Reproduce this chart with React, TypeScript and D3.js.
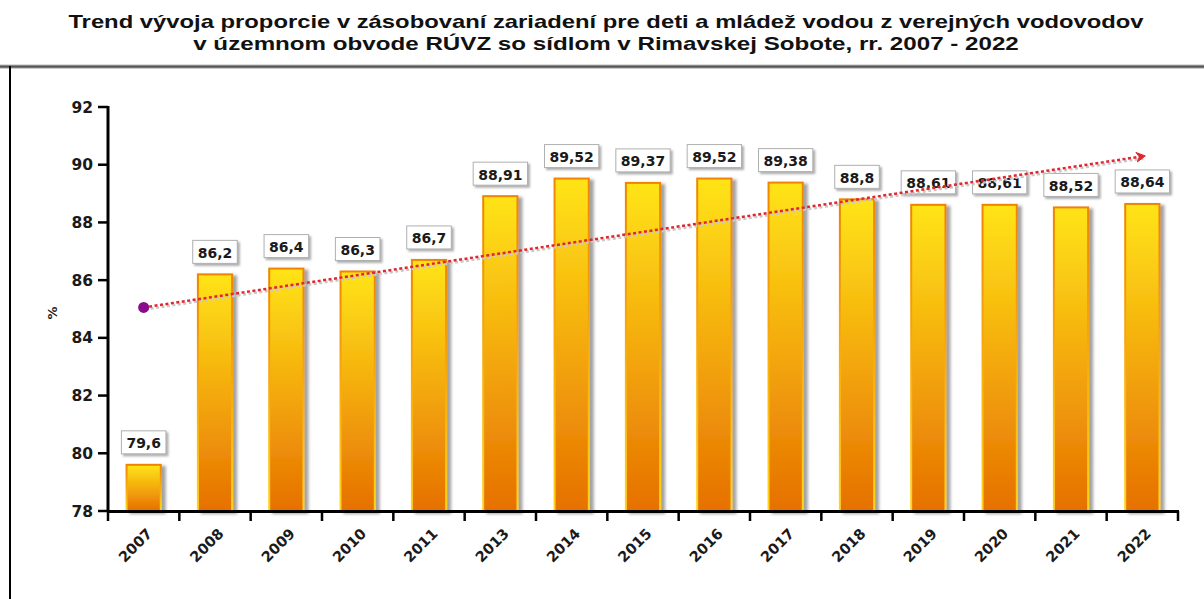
import React, { useEffect, useRef } from "react";
import * as d3 from "d3";

const years = ["2007", "2008", "2009", "2010", "2011", "2013", "2014", "2015", "2016", "2017", "2018", "2019", "2020", "2021", "2022"];
const values = [79.6, 86.2, 86.4, 86.3, 86.7, 88.91, 89.52, 89.37, 89.52, 89.38, 88.8, 88.61, 88.61, 88.52, 88.64];
const yTicks = [78, 80, 82, 84, 86, 88, 90, 92];
const titleLines = [
  "Trend vývoja proporcie v zásobovaní zariadení pre deti a mládež vodou z verejných vodovodov",
  "v územnom obvode RÚVZ so sídlom v Rimavskej Sobote, rr. 2007 - 2022",
];
const titleWidths = [1076, 826];
const yLabel = "%";

const W = 1204;
const H = 599;

export default function App() {
  const ref = useRef<SVGSVGElement>(null);

  useEffect(() => {
    const svg = d3.select(ref.current!);
    svg.selectAll("*").remove();

    const x0 = 108, x1 = 1178, yTop = 107, yBot = 511;
    const x = d3.scaleBand<string>().domain(years).range([x0, x1]).paddingInner(0.52).paddingOuter(0.26);
    const y = d3.scaleLinear().domain([78, 92]).range([yBot, yTop]);
    const valFont = "'DejaVu Sans', Verdana, sans-serif";

    const defs = svg.append("defs");
    const gFill = defs.append("linearGradient").attr("id", "barFill").attr("x1", 0).attr("y1", 0).attr("x2", 0).attr("y2", 1);
    gFill.append("stop").attr("offset", "0%").attr("stop-color", "#FFE414");
    gFill.append("stop").attr("offset", "45%").attr("stop-color", "#F5B010");
    gFill.append("stop").attr("offset", "100%").attr("stop-color", "#E67000");
    const gStroke = defs.append("linearGradient").attr("id", "barStroke").attr("x1", 0).attr("y1", 0).attr("x2", 0).attr("y2", 1);
    gStroke.append("stop").attr("offset", "0%").attr("stop-color", "#F08400");
    gStroke.append("stop").attr("offset", "100%").attr("stop-color", "#FFD41A");
    const frameG = defs.append("linearGradient").attr("id", "frameG").attr("x1", 0).attr("y1", 0).attr("x2", 0).attr("y2", 1);
    frameG.append("stop").attr("offset", "0%").attr("stop-color", "#bbb");
    frameG.append("stop").attr("offset", "50%").attr("stop-color", "#555");
    frameG.append("stop").attr("offset", "100%").attr("stop-color", "#999");

    const sh = defs.append("filter").attr("id", "shadow").attr("x", "-20%").attr("y", "-20%").attr("width", "150%").attr("height", "150%");
    sh.append("feDropShadow").attr("dx", 4).attr("dy", 2).attr("stdDeviation", 1.5).attr("flood-color", "#666").attr("flood-opacity", 0.6);
    const sh2 = defs.append("filter").attr("id", "shadow2").attr("x", "-20%").attr("y", "-20%").attr("width", "150%").attr("height", "160%");
    sh2.append("feDropShadow").attr("dx", 2).attr("dy", 2).attr("stdDeviation", 1).attr("flood-color", "#777").attr("flood-opacity", 0.6);

    svg.append("rect").attr("width", W).attr("height", H).attr("fill", "#fff");

    // title (horizontally stretched to the reference width)
    titleLines.forEach((t, i) => {
      const g = svg.append("g");
      const txt = g.append("text").attr("x", 0).attr("y", 0).attr("text-anchor", "middle")
        .attr("font-family", "'Liberation Sans', Arial, sans-serif").attr("font-weight", "bold").attr("font-size", 18).attr("fill", "#111")
        .text(t);
      const wMeas = (txt.node() as SVGTextElement).getComputedTextLength();
      const sx = titleWidths[i] / wMeas;
      g.attr("transform", `translate(606,${28 + i * 22}) scale(${sx},1)`);
    });

    // frame
    svg.append("rect").attr("x", 0).attr("y", 64.5).attr("width", W).attr("height", 4).attr("fill", "url(#frameG)");
    svg.append("line").attr("x1", 10).attr("x2", 10).attr("y1", 66).attr("y2", H).attr("stroke", "#000").attr("stroke-width", 2);

    // bars
    const bars = svg.append("g");
    years.forEach((yr, i) => {
      const bx = x(yr)!;
      const by = y(values[i]);
      bars.append("rect").attr("x", bx).attr("y", by).attr("width", x.bandwidth()).attr("height", yBot - by)
        .attr("fill", "url(#barFill)").attr("stroke", "url(#barStroke)").attr("stroke-width", 2).attr("filter", "url(#shadow)");
    });

    // value labels
    const lab = svg.append("g");
    years.forEach((yr, i) => {
      const cx = x(yr)! + x.bandwidth() / 2;
      const by = y(values[i]);
      const g = lab.append("g");
      const rect = g.append("rect");
      const txt = g.append("text").attr("x", cx).attr("y", by - 16.5).attr("text-anchor", "middle")
        .attr("font-family", valFont).attr("font-weight", "bold").attr("font-size", 14).attr("fill", "#1a1a1a")
        .text(String(values[i]).replace(".", ","));
      const w = (txt.node() as SVGTextElement).getComputedTextLength() + 10;
      const h = 23;
      rect.attr("x", cx - w / 2).attr("y", by - 11 - h).attr("width", w).attr("height", h)
        .attr("fill", "#fff").attr("stroke", "#b0b0b0").attr("stroke-width", 1).attr("filter", "url(#shadow2)");
    });

    // trend (least squares)
    const idx = values.map((_, i) => i);
    const mx = d3.mean(idx)!;
    const my = d3.mean(values)!;
    const slope = d3.sum(idx, (i) => (i - mx) * (values[i] - my)) / d3.sum(idx, (i) => (i - mx) ** 2);
    const inter = my - slope * mx;
    const tA = { x: x(years[0])! + x.bandwidth() / 2, y: y(inter) };
    const last = years.length - 1;
    const tB = { x: x(years[last])! + x.bandwidth() / 2, y: y(inter + slope * last) };

    svg.append("line").attr("x1", tA.x + 1.5).attr("y1", tA.y + 2).attr("x2", tB.x + 1.5).attr("y2", tB.y + 2)
      .attr("stroke", "#c8c8c8").attr("stroke-width", 2.5).attr("stroke-dasharray", "3,2.5");
    svg.append("line").attr("x1", tA.x).attr("y1", tA.y).attr("x2", tB.x).attr("y2", tB.y)
      .attr("stroke", "#E0262E").attr("stroke-width", 2.5).attr("stroke-dasharray", "3,2.5");
    const ang = Math.atan2(tB.y - tA.y, tB.x - tA.x);
    const tip = { x: tB.x + 3 * Math.cos(ang), y: tB.y + 3 * Math.sin(ang) };
    const aLen = 10, aW = 0.5;
    const p1 = { x: tip.x - aLen * Math.cos(ang - aW), y: tip.y - aLen * Math.sin(ang - aW) };
    const p2 = { x: tip.x - aLen * Math.cos(ang + aW), y: tip.y - aLen * Math.sin(ang + aW) };
    const pm = { x: tip.x - 6 * Math.cos(ang), y: tip.y - 6 * Math.sin(ang) };
    svg.append("path").attr("d", `M${p1.x},${p1.y}L${tip.x},${tip.y}L${p2.x},${p2.y}L${pm.x},${pm.y}Z`)
      .attr("fill", "#E0262E").attr("stroke", "#E0262E").attr("stroke-width", 1);
    svg.append("circle").attr("cx", tA.x).attr("cy", tA.y).attr("r", 5.5).attr("fill", "#8B0A8B");

    // y axis
    const ya = svg.append("g");
    ya.append("line").attr("x1", x0).attr("x2", x0).attr("y1", yTop - 1).attr("y2", yBot + 1).attr("stroke", "#000").attr("stroke-width", 3);
    yTicks.forEach((t) => {
      ya.append("line").attr("x1", x0 - 10).attr("x2", x0).attr("y1", y(t)).attr("y2", y(t)).attr("stroke", "#000").attr("stroke-width", 2.5);
      ya.append("text").attr("x", x0 - 15).attr("y", y(t)).attr("dy", "0.36em").attr("text-anchor", "end")
        .attr("font-family", valFont).attr("font-weight", "bold").attr("font-size", 15.5).attr("fill", "#1a1a1a").text(String(t));
    });
    svg.append("text").attr("transform", `translate(57,${(yTop + yBot) / 2 + 4}) rotate(-90)`).attr("text-anchor", "middle")
      .attr("font-family", valFont).attr("font-weight", "bold").attr("font-size", 13).attr("fill", "#1a1a1a").text(yLabel);

    // x axis
    const xa = svg.append("g");
    xa.append("line").attr("x1", x0).attr("x2", x1 + 1).attr("y1", yBot + 0.5).attr("y2", yBot + 0.5).attr("stroke", "#000").attr("stroke-width", 3);
    const step = x.step();
    d3.range(years.length + 1).forEach((i) => {
      const ex = x0 + i * step;
      xa.append("line").attr("x1", ex).attr("x2", ex).attr("y1", yBot).attr("y2", yBot + 10).attr("stroke", "#000").attr("stroke-width", 2.5);
    });
    years.forEach((yr) => {
      const cx = x(yr)! + x.bandwidth() / 2;
      xa.append("text").attr("transform", `translate(${cx + 6},${yBot + 20}) rotate(-45)`).attr("text-anchor", "end")
        .attr("dy", "0.35em")
        .attr("font-family", valFont).attr("font-weight", "bold").attr("font-size", 14.5).attr("fill", "#1a1a1a").text(yr);
    });
  }, []);

  return <svg ref={ref} width={W} height={H} style={{ position: "absolute", left: 0, top: 0 }} />;
}
